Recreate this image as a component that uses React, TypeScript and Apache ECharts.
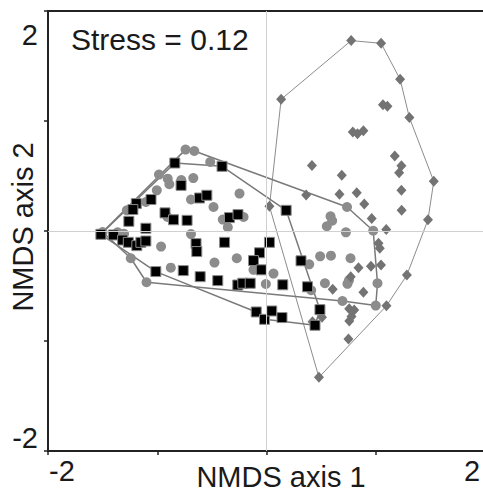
import React, { useEffect, useRef } from "react";
import * as echarts from "echarts";

// NMDS scores (axis 1, axis 2)
const squarePoints: [number, number][] = [
  [-1.516, -0.03], [-1.4, -0.036], [-1.317, -0.082], [-1.265, -0.103], [-1.187, -0.133],
  [-1.15, -0.103], [-1.104, -0.091], [-1.104, 0.025], [-1.26, 0.088], [-1.192, 0.249],
  [-1.223, 0.195], [-1.057, 0.286], [-0.929, 0.165], [-0.851, 0.102], [-0.727, 0.097],
  [-0.839, 0.618], [-0.782, 0.415], [-0.613, 0.3], [-0.546, 0.325], [-0.407, 0.588],
  [-0.339, 0.122], [-0.261, 0.149], [0.18, 0.188], [0.027, -0.103], [-0.064, -0.198],
  [-0.384, -0.103], [-0.119, -0.269], [-0.048, -0.353], [-0.645, -0.115], [-0.638, -0.187],
  [-1.013, -0.369], [-0.762, -0.36], [-0.607, -0.415], [-0.446, -0.451], [-0.263, -0.491],
  [-0.217, -0.475], [-0.149, -0.475], [0.149, -0.489], [0.316, -0.271], [0.375, -0.507],
  [0.489, -0.715], [0.444, -0.857], [-0.094, -0.736], [-0.018, -0.803], [0.048, -0.727],
  [0.142, -0.787],
];
const squareHull = [0, 15, 19, 22, 40, 41, 43, 42, 30, 0];

const circlePoints: [number, number][] = [
  [-1.5, -0.009], [-1.363, -0.012], [-1.304, -0.025], [-1.242, -0.248], [-1.098, -0.466],
  [-0.965, -0.142], [-0.876, -0.333], [-0.691, -0.028], [-1.278, 0.188], [-1.104, 0.264],
  [-1.004, 0.37], [-0.984, 0.513], [-0.904, 0.476], [-0.889, 0.425], [-0.78, 0.464],
  [-0.67, 0.481], [-0.741, 0.74], [-0.661, 0.727], [-0.515, 0.627], [-0.691, 0.286],
  [-0.906, 0.127], [-0.247, 0.34], [-0.485, 0.218], [-0.4, 0.104], [-0.354, 0.034],
  [-0.21, 0.127], [0.737, 0.218], [0.586, 0.134], [0.601, 0.093], [0.552, 0.043],
  [0.727, -0.012], [0.977, 0.002], [-0.476, -0.287], [-0.272, -0.248], [-0.119, -0.353],
  [0.064, -0.387], [-0.006, -0.482], [0.391, -0.303], [0.491, -0.23], [0.59, -0.224],
  [0.769, -0.248], [0.535, -0.475], [0.755, -0.448], [0.741, -0.48], [1.016, -0.475],
  [0.695, -0.636], [1.0, -0.678], [0.409, -0.539],
];
const circleHull = [0, 16, 17, 26, 31, 44, 46, 45, 4, 3, 0];

const diamondPoints: [number, number][] = [
  [0.775, 1.731], [1.049, 1.706], [1.223, 1.379], [0.134, 1.197], [1.066, 1.147],
  [1.107, 1.134], [1.308, 1.031], [0.79, 0.9], [0.833, 0.884], [0.887, 0.911],
  [1.174, 0.682], [1.235, 0.593], [1.214, 0.529], [0.416, 0.595], [0.689, 0.506],
  [1.531, 0.452], [1.235, 0.37], [0.668, 0.334], [0.826, 0.347], [0.363, 0.327],
  [0.895, 0.245], [1.237, 0.188], [0.027, 0.225], [0.963, 0.113], [1.478, 0.102],
  [1.096, 0.013], [1.025, -0.112], [1.037, -0.157], [0.842, -0.333], [0.956, -0.321],
  [1.048, -0.31], [0.771, -0.415], [1.285, -0.401], [0.606, -0.53], [0.887, -0.557],
  [1.098, -0.68], [0.757, -0.707], [0.803, -0.719], [0.778, -0.778], [0.758, -0.819],
  [0.508, -0.785], [0.421, -0.825], [0.75, -0.982], [0.48, -1.33],
];
const diamondHull = [22, 3, 0, 1, 2, 6, 15, 24, 32, 35, 43, 22];

const axisMin = -2;
const axisMax = 2;
const axisStep = 1;
const tickLabels: Record<string, string> = { "-2": "-2", "2": "2" };
const stressText = "Stress = 0.12";
const xTitle = "NMDS axis 1";
const yTitle = "NMDS axis 2";

const FONT = "'Liberation Sans', Arial, Helvetica, sans-serif";
const INK = "#1a1a1a";
const TICK_FS = 29;

export default function App() {
  const ref = useRef<HTMLDivElement>(null);

  useEffect(() => {
    if (!ref.current) return;
    const chart = echarts.init(ref.current, undefined, { renderer: "svg" });

    const hullData = (pts: [number, number][], idx: number[]) => idx.map((i) => pts[i]);

    const hullLine = (name: string, data: [number, number][], color: string, width: number, extra: any = {}) => ({
      name,
      type: "line",
      data,
      symbol: "none",
      silent: true,
      animation: false,
      lineStyle: { color, width },
      emphasis: { disabled: true },
      z: 2,
      ...extra,
    });

    const labelFormatter = (v: number) => {
      const t = tickLabels[String(v)];
      if (!t) return "";
      return v < 0 ? `{lo|${t}}` : `{hi|${t}}`;
    };

    chart.setOption({
      animation: false,
      grid: {
        left: 48,
        top: 11,
        right: -2,
        bottom: 46,
        show: true,
        borderColor: "#222",
        borderWidth: 2,
        containLabel: false,
        outerBoundsMode: "none",
      },
      xAxis: {
        type: "value",
        min: axisMin,
        max: axisMax,
        interval: axisStep,
        splitLine: { show: false },
        axisLine: { show: true, onZero: false, lineStyle: { color: "#222", width: 2 } },
        axisTick: { show: true, length: 4, lineStyle: { color: "#222", width: 1.5 } },
        axisLabel: {
          show: true,
          showMinLabel: true,
          showMaxLabel: true,
          hideOverlap: false,
          margin: 5,
          fontSize: TICK_FS,
          fontFamily: FONT,
          color: INK,
          formatter: labelFormatter,
          rich: {
            lo: { fontSize: TICK_FS, fontFamily: FONT, color: INK, padding: [0, 0, 0, 28] },
            hi: { fontSize: TICK_FS, fontFamily: FONT, color: INK, padding: [0, 26, 0, 0] },
          },
        },
      },
      yAxis: {
        type: "value",
        min: axisMin,
        max: axisMax,
        interval: axisStep,
        splitLine: { show: false },
        axisLine: { show: true, onZero: false, lineStyle: { color: "#222", width: 2 } },
        axisTick: { show: true, length: 4, lineStyle: { color: "#222", width: 1.5 } },
        axisLabel: {
          show: true,
          showMinLabel: true,
          showMaxLabel: true,
          hideOverlap: false,
          margin: 10,
          fontSize: TICK_FS,
          fontFamily: FONT,
          color: INK,
          formatter: labelFormatter,
          rich: {
            lo: { fontSize: TICK_FS, fontFamily: FONT, color: INK, padding: [0, 0, 26, 0] },
            hi: { fontSize: TICK_FS, fontFamily: FONT, color: INK, padding: [47, 0, 0, 0] },
          },
        },
      },
      graphic: [
        {
          type: "text",
          left: 71,
          top: 24,
          silent: true,
          style: { text: stressText, fontSize: 30, fontFamily: FONT, fill: INK },
        },
        {
          type: "text",
          x: 281,
          y: 477,
          silent: true,
          style: { text: xTitle, fontSize: 29, fontFamily: FONT, fill: INK, align: "center", verticalAlign: "middle" },
        },
        {
          type: "text",
          x: 23,
          y: 227,
          rotation: Math.PI / 2,
          silent: true,
          style: { text: yTitle, fontSize: 29, fontFamily: FONT, fill: INK, align: "center", verticalAlign: "middle" },
        },
      ],
      series: [
        hullLine("Hull C", hullData(diamondPoints, diamondHull), "#8c8c8c", 1, {
          z: 1,
          markLine: {
            silent: true,
            symbol: ["none", "none"],
            label: { show: false },
            emphasis: { disabled: true },
            lineStyle: { color: "#d0d0d0", width: 1, type: "solid" },
            data: [{ xAxis: 0 }, { yAxis: 0 }],
          },
        }),
        hullLine("Hull B", hullData(circlePoints, circleHull), "#7a7a7a", 1.5),
        hullLine("Hull A", hullData(squarePoints, squareHull), "#7a7a7a", 1.5),
        {
          name: "Group B",
          type: "scatter",
          data: circlePoints,
          symbol: "circle",
          symbolSize: 10,
          itemStyle: { color: "#8c8c8c", opacity: 1 },
          emphasis: { disabled: true },
          z: 3,
        },
        {
          name: "Group A",
          type: "scatter",
          data: squarePoints,
          symbol: "rect",
          symbolSize: 10,
          itemStyle: { color: "#000", borderColor: "#8a8a8a", borderWidth: 1, opacity: 1 },
          emphasis: { disabled: true },
          z: 4,
        },
        {
          name: "Group C",
          type: "scatter",
          data: diamondPoints,
          symbol: "diamond",
          symbolSize: [10, 11],
          itemStyle: { color: "#737373", opacity: 1 },
          emphasis: { disabled: true },
          z: 3,
        },
      ],
    });

    return () => chart.dispose();
  }, []);

  return (
    <div
      ref={ref}
      style={{ position: "absolute", left: 0, top: 0, width: 483, height: 497, background: "#fff" }}
    />
  );
}
